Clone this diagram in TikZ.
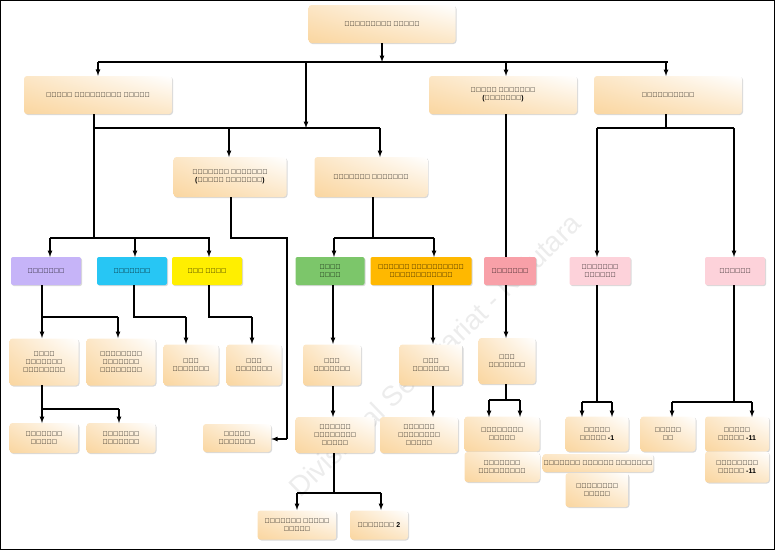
\documentclass[tikz,border=0pt]{standalone}
\usepackage{fontspec}
\setmainfont{Liberation Sans}
\usetikzlibrary{shadows,shadings}
\definecolor{boxL}{RGB}{250,214,160}
\definecolor{cPurple}{RGB}{198,180,248}
\definecolor{cCyan}{RGB}{39,198,244}
\definecolor{cYellow}{RGB}{255,239,0}
\definecolor{cGreen}{RGB}{124,198,106}
\definecolor{cOrange}{RGB}{255,184,0}
\definecolor{cPink}{RGB}{248,160,168}
\definecolor{cRose}{RGB}{253,210,218}
\tikzset{
  bx/.style={rounded corners=3pt, align=center, inner sep=1pt, font=\scriptsize\bfseries,
    lower left=boxL, upper right=white, lower right=boxL!60, upper left=boxL!60,
    drop shadow={shadow xshift=1pt,shadow yshift=-1pt,opacity=.3}},
  cb/.style={rounded corners=2pt, align=center, inner sep=1pt, font=\scriptsize\bfseries,
    fill=#1, drop shadow={shadow xshift=1pt,shadow yshift=-1pt,opacity=.3}},
  ln/.style={line width=1.2pt},
  ar/.style={line width=1.2pt,-latex}
}
\begin{document}
\begin{tikzpicture}[x=1pt,y=-1pt]
\useasboundingbox (0,0) rectangle (775,550);
\draw[line width=1pt] (0.5,0.5) rectangle (774.5,549.5);
%watermark
\node[rotate=44,text=gray!15,font=\fontsize{28}{28}\selectfont] (wm) at (435,355) {Divisional Secretariat - Kalutara};

%level 1-2
\node[bx,minimum width=147,minimum height=38] (PL) at (382,24) {ප්‍රාදේශීය ලේකම්};
\node[bx,minimum width=148,minimum height=38] (SPL) at (98,95) {සහකාර ප්‍රාදේශීය ලේකම්};
\node[bx,minimum width=148,minimum height=38] (SA) at (503,95) {සහකාර අධ්‍යක්ෂ\\(සැලසුම්)};
\node[bx,minimum width=148,minimum height=38] (GA) at (668,95) {ගණකාධිකාරී};
\node[bx,minimum width=113,minimum height=40] (PN1) at (230,177) {පරිපාලන නිලධාරී\\(ග්‍රාම නිලධාරී)};
\node[bx,minimum width=113,minimum height=40] (PN2) at (371,177) {පරිපාලන නිලධාරී};

%level 3 (colour)
\node[cb=cPurple,minimum width=70,minimum height=28] (SM) at (46,271) {සමෘද්ධි};
\node[cb=cCyan,minimum width=70,minimum height=28] (SW) at (132,271) {සංවර්ධන};
\node[cb=cYellow,minimum width=70,minimum height=28] (SS) at (207,271) {සුභ සාධන};
\node[cb=cGreen,minimum width=69,minimum height=28] (AY) at (330,271) {ආයතන\\අංශය};
\node[cb=cOrange,minimum width=101,minimum height=28] (AD) at (421,271) {අතිරේක දිස්ත්‍රික්\\රෙජිස්ට්‍රාර්};
\node[cb=cPink,minimum width=52,minimum height=28] (SL) at (510,271) {සැලසුම්};
\node[cb=cRose,minimum width=61,minimum height=28] (VW) at (600,271) {විශ්‍රාම\\වැටුප්};
\node[cb=cRose,minimum width=60,minimum height=28] (GN) at (735,271) {ගිණුම්};

%level 4
\node[bx,minimum width=69,minimum height=47] (KS) at (44,362) {කලාප\\සමෘද්ධි\\කළමණාකරු};
\node[bx,minimum width=69,minimum height=47] (MS) at (121,362) {මූලස්ථාන\\සමෘද්ධි\\කළමණාකරු};
\node[bx,minimum width=55,minimum height=41] (AP1) at (191,365) {අංශ\\ප්‍රධානී};
\node[bx,minimum width=55,minimum height=41] (AP2) at (254,365) {අංශ\\ප්‍රධානී};
\node[bx,minimum width=58,minimum height=41] (AP3) at (332,365) {අංශ\\ප්‍රධානී};
\node[bx,minimum width=63,minimum height=41] (AP4) at (431,365) {අංශ\\ප්‍රධානී};
\node[bx,minimum width=57,minimum height=46] (AP5) at (507,361) {අංශ\\ප්‍රධානී};

%level 5
\node[bx,minimum width=69,minimum height=30] (SB) at (44,438) {සමෘද්ධි\\බැංකු};
\node[bx,minimum width=69,minimum height=30] (SN) at (121,438) {සංවර්ධන\\නිලධාරී};
\node[bx,minimum width=68,minimum height=28] (GR) at (237,438) {ග්‍රාම\\නිලධාරී};
\node[bx,minimum width=79,minimum height=36] (PK1) at (335,435) {ප්‍රධාන\\කළමණාකරන\\සහකාර};
\node[bx,minimum width=78,minimum height=36] (PK2) at (419,435) {ප්‍රධාන\\කළමණාකරන\\සහකාර};
\node[bx,minimum width=75,minimum height=35] (KM1) at (502,434) {කළමණාකරන\\සහකාර};
\node[bx,minimum width=75,minimum height=30] (KN) at (502,467) {ක්ෂේත්‍ර\\නිලධාරීන්};
\node[bx,minimum width=63,minimum height=35] (MU1) at (597,434) {මූල්‍ය\\සහකාර -1};
\node[bx,minimum width=94,minimum height=18] (VN) at (598,463) {විශ්‍රාම වැටුප් නිලධාරී};
\node[bx,minimum width=63,minimum height=34] (KM2) at (597,490) {කළමණාකරන\\සහකාර};
\node[bx,minimum width=55,minimum height=35] (MT) at (668,434) {මෝටර්\\රථ};
\node[bx,minimum width=64,minimum height=35] (MU2) at (737,434) {මූල්‍ය\\සහකාර -11};
\node[bx,minimum width=64,minimum height=31] (KM3) at (737,467) {කළමණාකරන\\සහකාර -11};
\node[bx,minimum width=79,minimum height=29] (KR) at (297,525) {කාර්යාල කාර්ය\\සහායක};
\node[bx,minimum width=58,minimum height=29] (RD) at (379,525) {රියදුරු 2};

%connectors
\coordinate (b1) at (382,62);
\draw[ar] (PL) -- (b1);
\draw[ln] (SPL.north |- b1) -- (GA.north |- b1);
\draw[ar] (SPL.north |- b1) -- (SPL);
\draw[ar] (506,62) -- (506,76);
\draw[ar] (666,62) -- (666,76);
\coordinate (b2) at (306,128);
\draw[ar] (306,62) -- (b2);
\draw[ln] (94,114) -- (94,238);
\draw[ln] (94,128) -- (380,128);
\draw[ar] (229,128) -- (229,157);
\draw[ar] (380,128) -- (380,157);
%samurdhi etc.
\draw[ln] (50,238) -- (210,238);
\draw[ar] (50,238) -- (50,257);
\draw[ar] (135,238) -- (135,257);
\draw[ar] (209,238) -- (209,257);
\draw[ln] (231,197) -- (231,238) -- (287,238) -- (287,439);
\draw[ar] (287,439) -- (GR.east |- 287,439);
\draw[ln] (373,197) -- (373,238);
\draw[ln] (334,238) -- (434,238);
\draw[ar] (334,238) -- (334,257);
\draw[ar] (434,238) -- (434,257);
\draw[ln] (506,114) -- (506,257);
\draw[ln] (666,114) -- (666,128);
\draw[ln] (597,128) -- (734,128);
\draw[ar] (597,128) -- (597,257);
\draw[ar] (734,128) -- (734,257);
%level 4
\draw[ln] (42,285) -- (42,317) -- (118,317);
\draw[ar] (42,317) -- (42,338);
\draw[ar] (118,317) -- (118,338);
\draw[ln] (134,285) -- (134,317) -- (186,317);
\draw[ar] (186,317) -- (186,344);
\draw[ln] (209,285) -- (209,317) -- (252,317);
\draw[ar] (252,317) -- (252,344);
\draw[ar] (333,285) -- (333,344);
\draw[ar] (433,285) -- (433,344);
\draw[ar] (506,285) -- (506,338);
%level 5
\draw[ln] (42,385) -- (42,409) -- (119,409);
\draw[ar] (42,409) -- (42,423);
\draw[ar] (119,409) -- (119,423);
\draw[ar] (333,386) -- (333,417);
\draw[ar] (433,386) -- (433,417);
\draw[ln] (506,384) -- (506,400);
\draw[ln] (489,400) -- (520,400);
\draw[ar] (489,400) -- (489,417);
\draw[ar] (520,400) -- (520,417);
\draw[ln] (597,285) -- (597,402);
\draw[ln] (582,402) -- (612,402);
\draw[ar] (582,402) -- (582,417);
\draw[ar] (612,402) -- (612,417);
\draw[ln] (734,285) -- (734,402);
\draw[ln] (672,402) -- (752,402);
\draw[ar] (672,402) -- (672,417);
\draw[ar] (752,402) -- (752,417);
\draw[ln] (334,453) -- (334,493);
\draw[ln] (297,493) -- (381,493);
\draw[ar] (297,493) -- (297,510);
\draw[ar] (381,493) -- (381,510);
\end{tikzpicture}
\end{document}
